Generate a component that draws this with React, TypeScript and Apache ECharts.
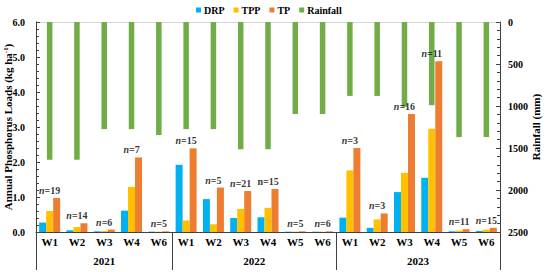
import React, { useEffect, useRef } from "react";
import * as echarts from "echarts";

const FONT = '"Liberation Serif", "Times New Roman", serif';

const years = ["2021", "2021", "2021", "2021", "2021", "2022", "2022", "2022", "2022", "2022", "2022", "2023", "2023", "2023", "2023", "2023", "2023"];
const wells = ["W1", "W2", "W3", "W4", "W6", "W1", "W2", "W3", "W4", "W5", "W6", "W1", "W2", "W3", "W4", "W5", "W6"];
const drp = [0.27, 0.05, 0.02, 0.61, 0.01, 1.92, 0.94, 0.4, 0.42, 0.01, 0.01, 0.41, 0.12, 1.14, 1.55, 0.02, 0.03];
const tpp = [0.6, 0.14, 0.03, 1.29, 0.01, 0.33, 0.22, 0.66, 0.69, 0.01, 0.01, 1.76, 0.36, 1.69, 2.95, 0.04, 0.07];
const tp = [0.97, 0.25, 0.07, 2.13, 0.02, 2.39, 1.27, 1.17, 1.23, 0.02, 0.02, 2.4, 0.53, 3.37, 4.88, 0.08, 0.12];
const rainfall = [1640, 1640, 1275, 1275, 1345, 1275, 1275, 1515, 1515, 1095, 1095, 880, 880, 1010, 990, 1370, 1370];
const nCounts = [19, 14, 6, 7, 5, 15, 5, 21, 15, 5, 6, 3, 3, 16, 11, 11, 15];
const nItalic = [true, true, true, true, true, true, true, true, false, true, true, true, true, true, true, true, true];
const leftTicks = ["0.0", "1.0", "2.0", "3.0", "4.0", "5.0", "6.0"];

const COLORS = { DRP: "#00B0F0", TPP: "#FFC000", TP: "#ED7D31", Rainfall: "#70AD47" };
const AXIS = "#404040";

export default function App() {
  const ref = useRef<HTMLDivElement>(null);
  useEffect(() => {
    if (!ref.current) return;
    const chart = echarts.init(ref.current, null, { renderer: "svg" });
    const keys = wells.map((w, i) => `${years[i]} ${w}`);
    const groups: { year: string; start: number; end: number }[] = [];
    years.forEach((y, i) => {
      const g = groups[groups.length - 1];
      if (g && g.year === y) g.end = i + 1;
      else groups.push({ year: y, start: i, end: i + 1 });
    });
    const boundaries = [0, ...groups.map((g) => g.end)];
    const centers = groups.map((g) => (g.start + g.end) / 2);
    const labelPos = drp.map((_, i) => Math.max(drp[i], tpp[i], tp[i]));
    const bold = { fontFamily: FONT, fontWeight: "bold" as const, color: "#000" };

    chart.setOption({
      animation: false,
      backgroundColor: "#fff",
      textStyle: { fontFamily: FONT },
      legend: {
        left: 191,
        top: 0,
        itemWidth: 5,
        itemHeight: 5,
        itemGap: 9,
        icon: "rect",
        data: ["DRP", "TPP", "TP", "Rainfall"],
        textStyle: { ...bold, fontSize: 10, padding: [0, 0, 0, -2] },
      },
      grid: { left: 36, right: 46, top: 22, bottom: 40, containLabel: false, outerBoundsMode: "none" },
      xAxis: [
        {
          type: "category",
          data: keys,
          position: "bottom",
          axisLine: { lineStyle: { color: AXIS } },
          axisTick: { length: 17, lineStyle: { color: AXIS } },
          axisLabel: { ...bold, fontSize: 11, margin: 4, formatter: (k: string) => k.split(" ")[1] },
        },
        {
          type: "category",
          data: keys,
          position: "top",
          axisLine: { lineStyle: { color: "#d9d9d9" } },
          axisTick: { show: false },
          axisLabel: { show: false },
        },
        {
          type: "value",
          min: 0,
          max: wells.length,
          position: "bottom",
          axisLine: { show: false },
          splitLine: { show: false },
          axisTick: { show: true, customValues: boundaries, length: 38, lineStyle: { color: AXIS } },
          axisLabel: {
            ...bold,
            fontSize: 11,
            margin: 23,
            customValues: centers,
            formatter: (v: number) => {
              const idx = centers.findIndex((c) => Math.abs(c - v) < 1e-6);
              return idx >= 0 ? groups[idx].year : "";
            },
          },
        },
      ],
      yAxis: [
        {
          type: "value",
          min: 0,
          max: 6,
          interval: 1,
          name: "{a|Annual Phosphorus Loads (kg ha}{s|-1}{a|)}",
          nameLocation: "middle",
          nameGap: 22,
          nameRotate: 90,
          nameMoveOverlap: false,
          nameTextStyle: {
            rich: {
              a: { ...bold, fontSize: 11 },
              s: { ...bold, fontSize: 7, verticalAlign: "top", padding: [0, 0, 5, 0] },
            },
          },
          axisLine: { show: true, lineStyle: { color: AXIS } },
          axisTick: { show: true, inside: true, length: 4, lineStyle: { color: AXIS } },
          minorTick: { show: true, splitNumber: 5, length: 3, lineStyle: { color: AXIS } },
          splitLine: { show: false },
          axisLabel: { ...bold, fontSize: 10, margin: 11, formatter: (v: number) => leftTicks[Math.round(v)] },
        },
        {
          type: "value",
          min: 0,
          max: 2500,
          interval: 500,
          inverse: true,
          position: "right",
          name: "Rainfall (mm)",
          nameLocation: "middle",
          nameGap: 30,
          nameRotate: 90,
          nameMoveOverlap: false,
          nameTextStyle: { ...bold, fontSize: 11 },
          axisLine: { show: true, lineStyle: { color: AXIS } },
          axisTick: { show: true, inside: true, length: 4, lineStyle: { color: AXIS } },
          minorTick: { show: true, splitNumber: 5, length: 3, lineStyle: { color: AXIS } },
          splitLine: { show: false },
          axisLabel: { ...bold, fontSize: 10, margin: 8, formatter: (v: number) => String(v) },
        },
      ],
      series: [
        { name: "DRP", type: "bar", xAxisIndex: 0, yAxisIndex: 0, data: drp, barWidth: 7, barGap: "0%", itemStyle: { color: COLORS.DRP } },
        { name: "TPP", type: "bar", xAxisIndex: 0, yAxisIndex: 0, data: tpp, barWidth: 7, barGap: "0%", itemStyle: { color: COLORS.TPP } },
        { name: "TP", type: "bar", xAxisIndex: 0, yAxisIndex: 0, data: tp, barWidth: 7, barGap: "0%", itemStyle: { color: COLORS.TP } },
        { name: "Rainfall", type: "bar", xAxisIndex: 1, yAxisIndex: 1, data: rainfall, barWidth: 5.5, itemStyle: { color: COLORS.Rainfall } },
        {
          name: "nlabels",
          type: "scatter",
          xAxisIndex: 0,
          yAxisIndex: 0,
          symbolSize: 1,
          itemStyle: { color: "rgba(0,0,0,0)" },
          z: 10,
          data: labelPos,
          label: {
            show: true,
            position: "top",
            distance: 2,
            formatter: (p: any) => {
              const i = p.dataIndex;
              return nItalic[i] ? `{i|n}{b|=${nCounts[i]}}` : `{b|n=${nCounts[i]}}`;
            },
            rich: {
              i: { ...bold, fontSize: 10, fontStyle: "italic" },
              b: { ...bold, fontSize: 10 },
            },
          },
        },
      ],
    });
    return () => chart.dispose();
  }, []);
  return <div ref={ref} style={{ position: "fixed", left: 0, top: 0, width: 546, height: 272, background: "#fff" }} />;
}
